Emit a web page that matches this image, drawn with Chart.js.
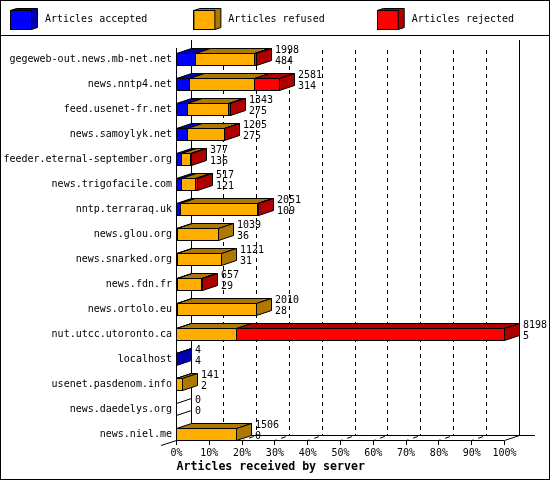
<!DOCTYPE html>
<html>
<head>
<meta charset="utf-8">
<style>html,body{margin:0;padding:0;background:#fff}canvas{display:block}</style>
<script src="https://cdn.jsdelivr.net/npm/chart.js@4"></script>
</head>
<body>
<canvas id="c" width="550" height="480"></canvas>
<script>
const categories = ["gegeweb-out.news.mb-net.net","news.nntp4.net","feed.usenet-fr.net","news.samoylyk.net","feeder.eternal-september.org","news.trigofacile.com","nntp.terraraq.uk","news.glou.org","news.snarked.org","news.fdn.fr","news.ortolo.eu","nut.utcc.utoronto.ca","localhost","usenet.pasdenom.info","news.daedelys.org","news.niel.me"];
const accepted = [484,314,275,275,136,121,109,36,31,29,28,5,4,2,0,0];
const refused  = [1476,1648,1037,913,219,359,1920,1003,1090,600,1982,1483,0,139,0,1506];
const rejected = [38,619,31,17,22,37,22,0,0,28,0,6710,0,0,0,0];
const totalLabels = [1998,2581,1343,1205,377,517,2051,1039,1121,657,2010,8198,4,141,0,1506];
const secondLabels = [484,314,275,275,136,121,109,36,31,29,28,5,4,2,0,0];
const tickPercents = [0,10,20,30,40,50,60,70,80,90,100];
const seriesNames = ["Articles accepted","Articles refused","Articles rejected"];
const frontColors = ["#0000ff","#ffae00","#ff0000"];
const sideColors = ["#0000af","#af7800","#af0000"];
const axisMax = 8198;
const DX = 15, DY = 5;
const MONO = '"DejaVu Sans Mono", monospace';

function legendBox(front, side) {
  const c = document.createElement('canvas');
  c.width = 30; c.height = 22;
  const g = c.getContext('2d');
  g.strokeStyle = '#000'; g.lineWidth = 1;
  g.fillStyle = side;
  g.beginPath(); g.moveTo(.5,2.5); g.lineTo(6.5,.5); g.lineTo(27.5,.5); g.lineTo(27.5,19.5); g.lineTo(21.5,21.5); g.lineTo(21.5,2.5); g.closePath(); g.fill(); g.stroke();
  g.fillStyle = front;
  g.fillRect(.5,2.5,21,19); g.strokeRect(.5,2.5,21,19);
  return c;
}

const snapBars = {
  id: 'snapBars',
  afterDatasetsUpdate(chart) {
    chart.data.datasets.forEach((d, i) => {
      chart.getDatasetMeta(i).data.forEach(b => {
        const a = Math.floor(b.base), e = Math.floor(b.x);
        b.base = a; b.x = e + 1;
      });
    });
  }
};

const legendFix = {
  id: 'legendFix',
  beforeLayout(chart) {
    const L = chart.legend;
    if (!L._wrapped) {
      const orig = L.fit;
      L.fit = function () { this.maxWidth = 900; orig.call(this); this.height = 47; };
      L._wrapped = true;
    }
  },
  afterLayout(chart) {
    const L = chart.legend;
    L.left = 10 - 46; L.right = 900; L.top = 14 - 46;
  }
};

const wall = {
  id: 'wall',
  beforeDatasetsDraw(chart) {
    const x = chart.scales.x, ctx = chart.ctx;
    ctx.save();
    ctx.strokeStyle = '#000'; ctx.lineWidth = 1;
    const fx = p => x.getPixelForValue(p / 100 * axisMax);
    tickPercents.forEach(p => {
      const f = Math.floor(fx(p)) + .5, b = Math.floor(fx(p) + DX - .5) + .5;
      if (p > 0 && p < 100) {
        ctx.setLineDash([4, 4]);
        ctx.beginPath(); ctx.moveTo(b, 50); ctx.lineTo(b, 436); ctx.stroke();
        ctx.setLineDash([2, 5, 5, 30]);
        ctx.beginPath(); ctx.moveTo(f, 440.5); ctx.lineTo(b, 435.5); ctx.stroke();
      }
      ctx.setLineDash([]);
      ctx.beginPath(); ctx.moveTo(f, 441); ctx.lineTo(f, 445); ctx.stroke();
    });
    ctx.setLineDash([]);
    const L = Math.floor(fx(0)) + .5, R = Math.floor(fx(100)) + .5;
    const lines = [
      [L, 48, L, 441], [L + DX, 40, L + DX, 436], [R + DX, 40, R + DX, 436],
      [L, 440.5, R, 440.5], [L + DX, 435.5, 535, 435.5], [R, 440.5, R + DX, 435.5], [161, 445.5, L, 440.5]
    ];
    lines.forEach(l => { ctx.beginPath(); ctx.moveTo(l[0], l[1]); ctx.lineTo(l[2], l[3]); ctx.stroke(); });
    ctx.restore();
  }
};

const depth = {
  id: 'depth',
  afterDatasetsDraw(chart) {
    const ctx = chart.ctx;
    const metas = chart.data.datasets.map((d, i) => chart.getDatasetMeta(i));
    ctx.save();
    ctx.lineWidth = 1; ctx.strokeStyle = '#000';
    categories.forEach((c, r) => {
      const first = metas[0].data[r];
      const y0 = first.y - 6.5, y1 = first.y + 6.5;
      const t = y0 + .5, u = y1 - .5;
      let lastIdx = -1, end = Math.floor(chart.scales.x.getPixelForValue(0));
      metas.forEach((m, d) => {
        if (chart.data.datasets[d].data[r] > 0) {
          const b = m.data[r];
          const a = b.base + .5, e = b.x - .5;
          ctx.fillStyle = sideColors[d];
          ctx.beginPath(); ctx.moveTo(a, t); ctx.lineTo(e, t); ctx.lineTo(e + DX, t - DY); ctx.lineTo(a + DX, t - DY); ctx.closePath(); ctx.fill(); ctx.stroke();
          lastIdx = d; end = b.x - 1;
        }
      });
      const e = end + .5;
      ctx.beginPath(); ctx.moveTo(e, t); ctx.lineTo(e + DX, t - DY); ctx.lineTo(e + DX, u - DY); ctx.lineTo(e, u); ctx.closePath();
      if (lastIdx >= 0) { ctx.fillStyle = sideColors[lastIdx]; ctx.fill(); }
      ctx.stroke();
      ctx.fillStyle = '#000';
      ctx.font = '10px ' + MONO;
      ctx.textAlign = 'left'; ctx.textBaseline = 'middle';
      const lx = end + DX + 4;
      ctx.fillText(String(totalLabels[r]), lx, first.y - 9.5);
      ctx.fillText(String(secondLabels[r]), lx, first.y + 1.5);
    });
    ctx.restore();
  }
};

const frame = {
  id: 'frame',
  beforeDraw(chart) {
    chart.ctx.save(); chart.ctx.fillStyle = '#fff'; chart.ctx.fillRect(0, 0, 550, 480); chart.ctx.restore();
  },
  afterDraw(chart) {
    const ctx = chart.ctx;
    ctx.save(); ctx.strokeStyle = '#000'; ctx.lineWidth = 1;
    ctx.strokeRect(.5, .5, 549, 479);
    ctx.beginPath(); ctx.moveTo(0, 35.5); ctx.lineTo(550, 35.5); ctx.stroke();
    ctx.restore();
  }
};

new Chart(document.getElementById('c'), {
  type: 'bar',
  data: {
    labels: categories,
    datasets: [accepted, refused, rejected].map((v, i) => ({
      label: seriesNames[i], data: v,
      backgroundColor: frontColors[i], borderColor: '#000', borderWidth: 1,
      borderSkipped: false, inflateAmount: 0, barThickness: 13
    }))
  },
  options: {
    indexAxis: 'y',
    responsive: false,
    devicePixelRatio: 1,
    animation: false,
    layout: { padding: { left: 0, right: 45.5, top: 0, bottom: 0 } },
    plugins: {
      tooltip: { enabled: false },
      legend: {
        position: 'top', align: 'start',
        labels: {
          usePointStyle: true, pointStyleWidth: 30, padding: 46,
          color: '#000', font: { family: MONO, size: 10 },
          generateLabels: () => seriesNames.map((n, i) => ({
            text: n.padEnd(17), datasetIndex: i, fontColor: '#000',
            pointStyle: legendBox(frontColors[i], sideColors[i])
          }))
        }
      }
    },
    scales: {
      x: {
        type: 'linear', stacked: true, min: 0, max: axisMax,
        grid: { display: false, drawTicks: false }, border: { display: false },
        afterBuildTicks: s => { s.ticks = tickPercents.map(p => ({ value: p / 100 * axisMax })); },
        afterFit: s => { s.height = 33; },
        ticks: {
          autoSkip: false, maxRotation: 0, minRotation: 0, padding: 0, color: '#000',
          font: { family: MONO, size: 10 },
          callback: (v, i) => tickPercents[i] + '%'
        },
        title: {
          display: true, text: 'Articles received by server', align: 'start', color: '#000',
          font: { family: MONO, size: 11.6, weight: 'bold' }, padding: { top: 0, bottom: 6 }
        }
      },
      y: {
        stacked: true,
        grid: { display: false, drawTicks: false }, border: { display: false },
        afterFit: s => { s.width = 176.5; },
        ticks: { autoSkip: false, padding: 4.5, color: '#000', font: { family: MONO, size: 10 } }
      }
    }
  },
  plugins: [frame, legendFix, snapBars, wall, depth]
});
</script>
</body>
</html>
